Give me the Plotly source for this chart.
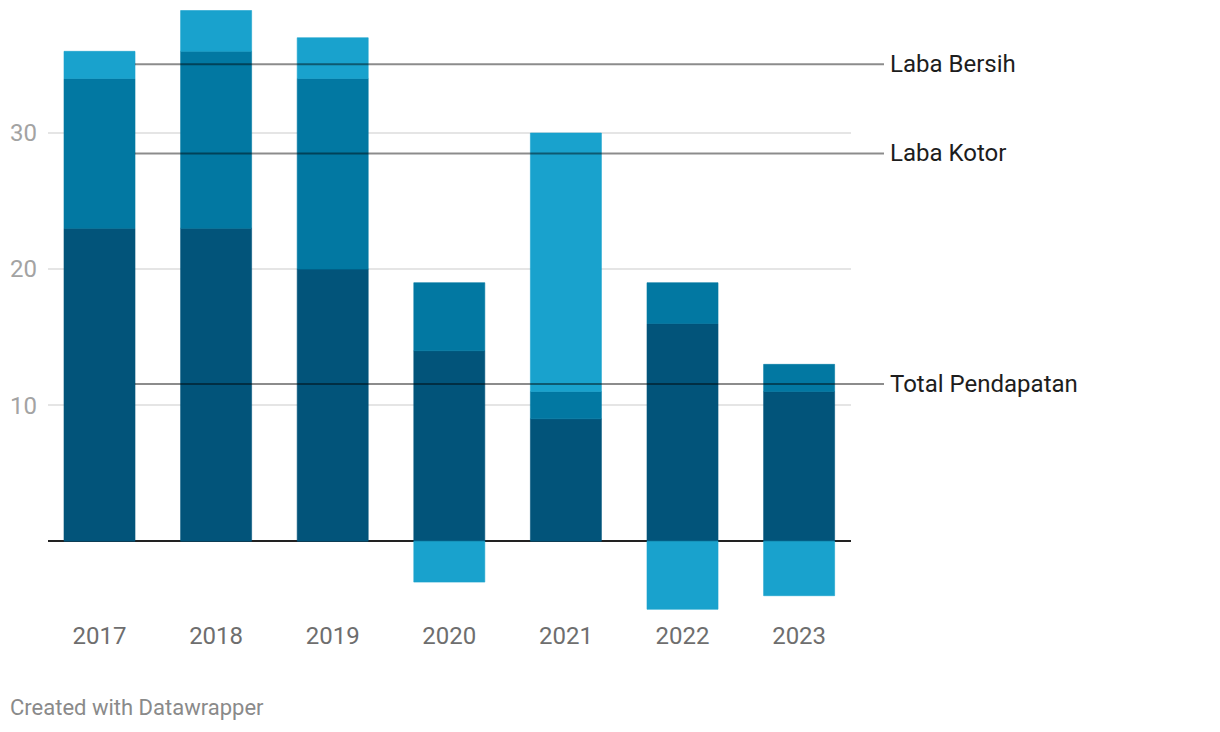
import plotly.graph_objects as go

years = ["2017", "2018", "2019", "2020", "2021", "2022", "2023"]
total_pendapatan = [23, 23, 20, 14, 9, 16, 11]
laba_kotor = [11, 13, 14, 5, 2, 3, 2]
laba_bersih = [2, 3, 3, -3, 19, -5, -4]

series_names = ["Total Pendapatan", "Laba Kotor", "Laba Bersih"]
series_colors = ["#02547a", "#0278a2", "#19a2cd"]
label_names = ["Laba Bersih", "Laba Kotor", "Total Pendapatan"]
label_y = [35.05, 28.5, 11.55]

# page body has an 8px margin, so figure coords = screen coords - 8
OFF = 8
W, H = 1220 - OFF, 732 - OFF
L, R_px, T_px, B_px = 48 - OFF, 851 - OFF, 0, 612.5 - OFF
FONT = "Roboto"

fig = go.Figure()
for name, vals, col in zip(series_names, [total_pendapatan, laba_kotor, laba_bersih], series_colors):
    fig.add_trace(go.Bar(x=years, y=vals, name=name, marker=dict(color=col, line=dict(width=0.6, color=col)),
                         hoverinfo="x+y+name"))

pw = R_px - L
x0_paper = (135 - OFF - L) / pw
x1_paper = (884 - OFF - L) / pw
for name, yv in zip(label_names, label_y):
    fig.add_shape(type="line", xref="paper", yref="y", x0=x0_paper, x1=x1_paper, y0=yv, y1=yv,
                  line=dict(color="rgba(0,0,0,0.45)", width=2), layer="above")
    fig.add_annotation(xref="paper", yref="y", x=(888 - OFF - L) / pw, y=yv, text=name, showarrow=False,
                       xanchor="left", yanchor="middle", font=dict(family=FONT, size=24, color="#1d1d1d"))

ph = B_px - T_px
fig.add_annotation(xref="paper", yref="paper", x=(8 - OFF - L) / pw, y=(B_px - (708 - OFF)) / ph,
                   text="Created with Datawrapper", showarrow=False, xanchor="left", yanchor="middle",
                   font=dict(family=FONT, size=22, color="#8a8a8a"))

top_val = (541.7 - 8) / 13.62
bot_val = -(612.5 - 541.7) / 13.62

fig.update_layout(
    width=W, height=H, barmode="relative", bargap=0.391, showlegend=False,
    plot_bgcolor="white", paper_bgcolor="white",
    margin=dict(l=L, r=W - R_px, t=T_px, b=H - B_px, pad=0),
    xaxis=dict(type="category", range=[-0.4417, 6.445], showgrid=False, showline=False, ticks="",
               tickfont=dict(family=FONT, size=24, color="#6e6e6e"), ticklabelstandoff=7,
               fixedrange=True),
    yaxis=dict(range=[bot_val, top_val], tickvals=[10, 20, 30], showgrid=True, gridcolor="#e5e5e5", gridwidth=2,
               zeroline=True, zerolinecolor="#222222", zerolinewidth=2, showline=False, ticks="",
               tickfont=dict(family=FONT, size=24, color="#a3a3a3"), ticklabelstandoff=10,
               fixedrange=True),
)

fig.write_html("out.html")
